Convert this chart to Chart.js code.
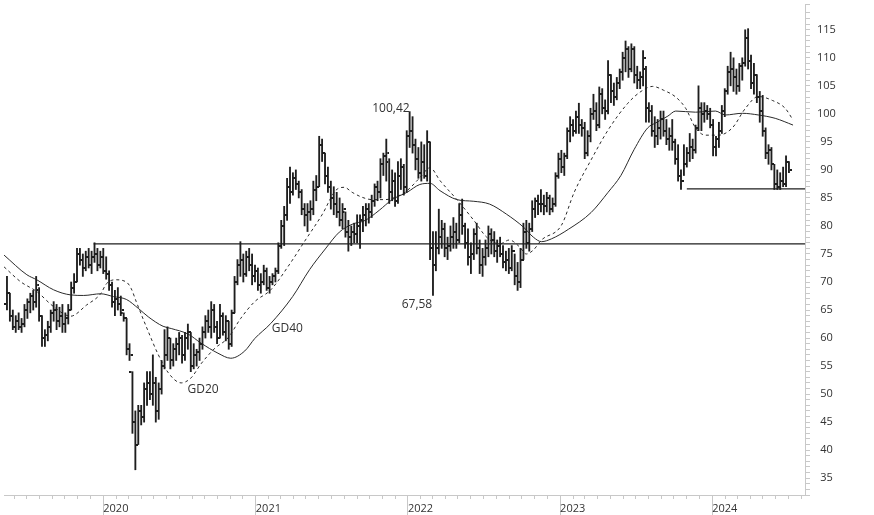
<!DOCTYPE html>
<html><head><meta charset="utf-8">
<script src="https://cdn.jsdelivr.net/npm/chart.js@4/dist/chart.umd.min.js"></script>
<style>html,body{margin:0;padding:0;background:#fff;overflow:hidden}</style>
</head><body>
<canvas id="c" width="874" height="515"></canvas>
<script>
// ---- data (weekly bars, week 0 = startDate) ----
const startDate = '2019-05-15';
const yearLabels = ['2020', '2021', '2022', '2023', '2024'];

const opens = [
66,68,64,62,63,62,62.5,65,66.5,67.5,
66.5,68.5,64,60,60.5,62,64.5,65,63,64,
62.5,63.5,65,69,70,75,74,72.5,74.5,73,
74.5,75,73,74.5,72,71.5,69.5,66.5,67,66,
64.5,63.5,58,54,45,41,47,46,51,52,
50,52,47,51,55,57,60,56,58,59,
60,57,60,61,55,57,57.5,59,61,63,
62,65,62,60,64,61,63,59,64.5,70,
73,74,71.5,74.5,73,71,72,69.5,70,72,
69,70,71,72,76.5,80,82,87,86,88.5,
87.5,86,83,82,82.5,83,86.5,87,94.5,93,
89,87,85,84,82.5,81,82.5,79,78,79,
78.5,80,81,82,83,82.5,84.5,87,86,91,
92.5,91.5,86,88,84.5,89,90.5,87,96,97,
94.5,92,89.5,91.5,89,95,76,73,76,78,
79.5,76,76.5,78,79,77.5,82,80,77,74.5,
75,78.5,76,73,74.5,76,78.5,77.5,75.5,76.5,
75,73.5,74,72.5,75.5,71,70,74,79,77,
79.5,83,84.5,84,84,83.5,85,83,84,89,
92,90.5,92.5,97,98,97,99.5,98,97.5,93,
96,100,100.5,98,103.5,101,100.5,107,104,103,
105.5,107.5,110,111.5,108,111.5,107,106,106.5,108,
101,100.5,97,96,97.5,99,97,95.5,96,95,
92,89,88,91,93,94,93.5,97.5,101,100,
100.5,100,98,94,95.5,97,100.5,104,107.5,108,
106.5,105,108.5,109,113.5,109.5,105.5,107,103,100.5,
97,93,93.5,91,87.5,87,88,87.5,91.5
];
const highs = [
71,68,65,64,64.5,63.5,66,67,68,68.5,
71,69,64,61.5,63,65,66.5,66,65.5,66,
64.5,66,70,71.5,76,76,75,75.5,76,75.5,
77,76,75.5,76,74.5,72,70,68.5,69,67.5,
64.5,63.5,59,54,47,48,48,52,54,54,
57,53,52,56,61.5,62,60,59,60,61,
60.5,61,62.5,61,59,58,60,62,64,65,
66.5,66,63,66,64.5,64,63,65,71,74,
77.2,75,75.5,76,75,73,72.5,71.5,73,72.5,
71,71.5,72.5,77,81,83.5,88.5,90.5,89.5,90,
88,86.5,84,84,84.5,88,89,96,95.5,93,
90.5,88,87,86,85,84,82.5,81,80,80.5,
82,82,83.5,84,84,85.5,87.5,88,92,93,
95.5,92,90,89.5,91.5,92,91,97,100.4,99.5,
95.5,94,95,94.5,97,95,79,79,83,81,
80.5,78,80,81.5,80.5,84,84.8,80.5,79.5,77,
79.5,80.5,77.5,76,77.5,80,79.5,79,77.5,78,
76.5,75.5,76,76.5,75,73.5,76,80.5,81,80.5,
84.5,85,85.5,86.5,85.5,86,85.5,85,89.5,93,
93.5,93,97.5,99.5,99,100.5,101.9,99,98.5,97,
101,103.5,102,104.8,104.5,102.5,109.5,107,105.5,106.5,
108,111,113,112,112.5,112,108.5,107.5,111.3,108.5,
102,101.5,99.5,99,100.5,100.5,99,97.5,99,95.5,
94.5,90,94.5,94,96.5,95.5,98,105,102,102,
101.5,101,99,96,98.5,101.5,104.5,108.5,111,110,
108,109,110,115,115.2,110.5,109,107,104,103.3,
97.5,94.5,94,91,90,89.5,90.5,92.5,91.5
];
const lows = [
65,63,61.5,61,61.5,61,62,63.5,64.5,65,
65.5,63,58.5,58.5,59.5,61,63,61.5,62,61,
61,62.5,65,68,70,73,71,72,72.5,71.5,
73.5,72,72.5,71.5,70.5,68.5,65.5,64,65,64,
63,57,56,43,36.5,41,44.5,45,48,49,
48,45,45.5,50,54.5,56,54.5,55,56,57,
55.5,56,58,54,54.5,55,56,58,60,61,
60,61,59,60,60.5,59.5,58,58.5,64.5,69.5,
71,70,71,72,69.5,70,68.5,68,69.5,68.5,
68,69.5,70,71.5,76,76.5,81,84,85.5,86.5,
85,82,80,79,81,82,84.5,87,91.5,87.5,
86,83,82,81.5,80,79.5,78,75.5,76.5,77,
77,76,79,80,80.5,81.5,83.5,84.5,85,89,
88,84,84.5,83.5,84,86.5,85.5,86,94,93,
90,88.5,88,88.5,88,74,67.6,72,75,76,
74.5,74,75.5,76,76,77,78.5,76,73,71.5,
74,75,71.5,71,73,74.5,75,74.5,73.5,74.5,
72.5,72,71.5,72,69.5,68.5,69,74,76,75.5,
79,81.5,82,82.5,82,82.5,82,82.5,83.5,88.5,
89.5,89,92,95,96,96.5,96.5,96,92,92.5,
95,99,97,97.5,100,99,100,102,101.5,102.5,
104.5,106,107.5,106.5,107.5,105.5,104.5,104.5,105,98.5,
98.5,96,94,94.5,95.5,96,94.5,93.5,93.5,91,
88,86.5,89,90.5,91.5,92,93,97,97,98.5,
99,97.5,92.5,92.5,94,96.5,99.5,103.5,105,104,
103.5,104,106,108.5,108,104.5,103.5,102,98.5,96,
92,91,90,86.5,86.5,86.5,87,87,89.5
];
const closes = [
68,64,62,63,62,62.5,65,66.5,67.5,66.5,
69.5,64,60,60.5,62,64.5,65,63,64,62.5,
63.5,65,69,70,75,74,72.5,74.5,73,74.5,
75,73,74.5,72,71.5,69.5,66.5,67,66,65,
63.5,58,57,45,41,47,46,51,52,50,
52,47,51,55,57,60,56,58,59,60,
57,60,61,55,57,57.5,59,61,63,62,
65,62,60,64,61,63,59,64.5,70,73,
74,71.5,74.5,73,71,72,69.5,70,72,69,
70,71,72,76.5,80,82,87,86,88.5,87.5,
86,83,82,82.5,83,86.5,87,94.5,93,89,
87,85,84,82.5,81,83,79,78,79,78.5,
80,81,82,83,82.5,84.5,87,86,91,92.5,
93,86,88,84.5,89,90.5,87,96,97,94.5,
92,89.5,91.5,89,95,76,73,76,78,79.5,
76,76.5,78,79,77.5,82,80,77,74.5,75,
78.5,76,73,74.5,76,78.5,77.5,75.5,76.5,75,
73.5,74,72.5,75.5,71,70,74,79,77,79.5,
83,84.5,84,84,83.5,85,83,84,89,92,
90.5,92.5,97,98,97,99.5,98,97.5,93,96,
100,100.5,98,103.5,101,100.5,107,104,103,105.5,
107.5,110,111.5,108,111.5,107,106,106.5,110,101,
100.5,97,96,97.5,99,97,95.5,96,95,92,
89,88,91,93,94,93.5,97.5,101,100,100.5,
100,98,94,95.5,97,100.5,104,107.5,108,106.5,
105,108.5,109,113.5,109.5,105.5,107,103,100.5,97,
93,93.5,91,87.5,87,88,87.5,91.5,90
];

// GD20 (dashed) and GD40 (solid) moving averages
const gd20Weeks = [-1,4.8,10.2,16,21.8,27.3,32.1,34.1,37.2,40.9,42.6,44.3,48.4,51.8,55.3,59.7,63.1,66.5,71.3,75.7,80.1,84.9,90.4,96.9,102.3,108.1,112.6,115.6,118.3,121.8,125.2,129.6,133,137.1,141.5,145,148.4,154.2,160,164.4,168.8,172.2,175.6,178,180.4,183.2,190,194.4,200.2,206,212.8,217.3,221.3,225.1,229.2,232.6,236,239.4,243.9,248.6,253.1,257.5,262.3,266.7,269.4];
const gd20Values = [72.7,70,68.3,65.6,63.9,65.9,67.9,69.7,70.4,70,68.8,66.5,61.2,57.1,53.8,52,52.9,55.4,58.2,60,63.5,66.5,68.6,73.2,77.5,82.1,86.3,86.9,86,85.1,84.7,84.7,85.1,86.3,88.6,90.4,88.1,84.7,81,78,76.8,77.5,76.3,75,75.7,77.5,80.1,86,91.8,97.1,101.9,104,104.9,104.2,103,101,97.5,96.2,96.2,97.5,101,103.1,102.4,101,98.9];
const gd40Weeks = [-1,6.8,10.2,16,21.8,26.3,32.1,36.5,40.9,45,48.4,53.5,56.3,62.1,66.5,72.3,76.7,81.5,84.9,90.4,97.9,103.7,109.1,113.9,118.3,122.8,127.6,132,137.1,141.5,145,148.4,154.2,160,165.4,171.2,177,180.4,183.2,186.6,192.4,200.2,206,210.4,214.9,219.6,222.4,226.5,229.2,236,242.8,246.2,252,257.5,263.3,269.4];
const gd40Values = [74.8,71.3,70.4,68.6,67.7,67.6,67.9,67.4,66.9,65.3,63.8,62.1,61.7,60.7,59.1,57.3,56.4,57.7,59.9,62.6,67.4,72.2,75.9,78.9,80.3,81,82.8,84.7,86,87.4,87.6,86.3,84.7,84.4,83.9,82.1,79.8,78,77.2,77.7,79.4,82.4,86,89,93.6,97.5,98.4,99.6,100.5,100.3,100.5,99.8,100.1,99.8,99.2,98];

// horizontal support lines
const levelValues = [76.8, 86.6];
const levelStartWeeks = [29.7, 233];

// text notes on the chart
const noteTexts = ['100,42', '67,58', 'GD20', 'GD40'];
const noteWeeks = [131.6, 140.5, 67.2, 96.1];
const noteValues = [100.9, 66.0, 50.75, 61.7];

// ---- setup ----
const X_MIN = -1.02, X_MAX = 273.5;
const INK = '#1e1e1e';
const AXIS = '#c8c8c8';
const TXT = '#333333';
const FONT = '"Open Sans", "Noto Sans", sans-serif';

const t0 = new Date(startDate + 'T00:00:00Z').getTime();
const weekOf = (y, m) => (Date.UTC(y, m, 1) - t0) / (7 * 864e5);
const yearTicks = yearLabels.map(y => weekOf(+y, 0));
const monthTicks = [];
for (let y = 2019; y <= 2024; y++) for (let m = 0; m < 12; m++) {
  const w = weekOf(y, m);
  if (w >= X_MIN && w <= X_MAX) monthTicks.push(w);
}

function tickImg(left) {
  const c = document.createElement('canvas');
  c.width = 6; c.height = 2;
  const g = c.getContext('2d');
  g.fillStyle = INK;
  g.fillRect(left ? 0 : 4, 0, 2, 2);
  return c;
}
const openImg = tickImg(true), closeImg = tickImg(false);

const barData = highs.map((h, i) => ({x: i, y: [lows[i], h]}));
const openData = opens.map((v, i) => ({x: i, y: v}));
const closeData = closes.map((v, i) => ({x: i, y: v}));
const gd20Data = gd20Weeks.map((w, i) => ({x: w, y: gd20Values[i]}));
const gd40Data = gd40Weeks.map((w, i) => ({x: w, y: gd40Values[i]}));

const lineBase = {type: 'line', pointRadius: 0, borderWidth: 1, fill: false};
const levelSets = levelValues.map((v, k) => ({
  ...lineBase, borderColor: INK, borderWidth: 1.2,
  data: [{x: levelStartWeeks[k], y: v}, {x: X_MAX, y: v}]
}));

const notesPlugin = {
  id: 'notes',
  afterDatasetsDraw(chart) {
    const {ctx, scales: {x, y}} = chart;
    ctx.save();
    ctx.font = '12px ' + FONT;
    ctx.fillStyle = TXT;
    ctx.textAlign = 'center';
    ctx.textBaseline = 'middle';
    noteTexts.forEach((t, k) => ctx.fillText(t, x.getPixelForValue(noteWeeks[k]), y.getPixelForValue(noteValues[k])));
    ctx.restore();
  }
};

new Chart(document.getElementById('c'), {
  type: 'bar',
  data: {
    datasets: [
      {type: 'line', data: openData, showLine: false, pointStyle: openImg, pointRadius: 3, pointHoverRadius: 3},
      {type: 'line', data: closeData, showLine: false, pointStyle: closeImg, pointRadius: 3, pointHoverRadius: 3},
      {type: 'bar', data: barData, backgroundColor: INK, borderWidth: 0, barThickness: 1.2, grouped: false},
      {...lineBase, data: gd20Data, borderColor: '#2a2a2a', borderDash: [3, 3], cubicInterpolationMode: 'monotone'},
      {...lineBase, data: gd40Data, borderColor: '#2a2a2a', cubicInterpolationMode: 'monotone'},
      ...levelSets
    ]
  },
  options: {
    responsive: false,
    animation: false,
    events: [],
    layout: {padding: 0},
    plugins: {legend: {display: false}, tooltip: {enabled: false}},
    scales: {
      x: {
        type: 'linear', position: 'bottom', min: X_MIN, max: X_MAX, offset: false, weight: 0,
        afterBuildTicks: s => { s.ticks = monthTicks.map(v => ({value: v})); },
        ticks: {display: false, autoSkip: false},
        grid: {offset: false, drawOnChartArea: false, tickLength: 4, color: AXIS, lineWidth: 1},
        border: {color: AXIS},
        afterFit: s => { s.height = 4; s.paddingLeft = 0; s.paddingRight = 0; }
      },
      x2: {
        type: 'linear', position: 'bottom', min: X_MIN, max: X_MAX, offset: false, weight: 1,
        afterBuildTicks: s => { s.ticks = yearTicks.map(v => ({value: v})); },
        ticks: {align: 'start', padding: -13, autoSkip: false, maxRotation: 0, color: TXT,
                font: {family: FONT, size: 11}, callback: (v, i) => yearLabels[i]},
        grid: {offset: false, drawOnChartArea: false, tickLength: 16, color: AXIS},
        border: {display: false},
        afterFit: s => { s.height = 16; s.paddingLeft = 0; s.paddingRight = 0; }
      },
      y: {
        type: 'linear', position: 'right', min: 32, max: 119.6,
        ticks: {stepSize: 1, autoSkip: false, maxTicksLimit: 200, crossAlign: 'center', padding: 7, color: TXT,
                font: {family: FONT, size: 11}, callback: v => (v % 5 === 0 ? String(v) : '')},
        grid: {drawOnChartArea: false, tickLength: 5, color: AXIS},
        border: {color: AXIS},
        afterFit: s => { s.width = 69; s.paddingTop = 0; s.paddingBottom = 0; }
      }
    }
  },
  plugins: [notesPlugin]
});
</script>
</body></html>
